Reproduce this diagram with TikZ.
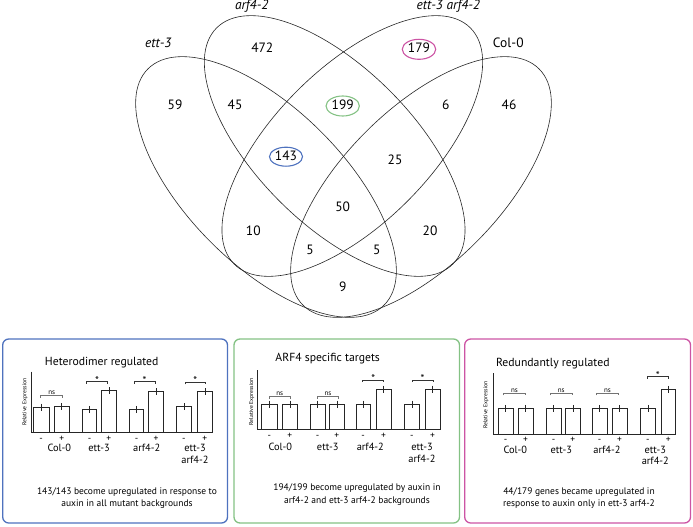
\documentclass[tikz,border=0pt]{standalone}
\usepackage{fontspec}
\setmainfont{PT Sans}
\definecolor{vblue}{RGB}{78,114,190}
\definecolor{vgreen}{RGB}{132,194,132}
\definecolor{vpink}{RGB}{204,84,164}
\tikzset{
  venn/.style={draw=black!85, line width=0.6pt},
  txt/.style={inner sep=0pt, text height=0.7em, text depth=0pt, anchor=center},
  vnum/.style={txt, font=\fontsize{13.5}{15}\selectfont},
  vlab/.style={txt, font=\fontsize{13.5}{15}\selectfont\itshape},
  ring/.style={line width=1.1pt},
  panel/.style={rounded corners=6pt, line width=1.3pt},
  barbox/.style={draw=black!85, fill=white, line width=0.6pt},
  errb/.style={draw=black!85, line width=0.6pt},
  axisline/.style={draw=black!85, line width=0.6pt},
  nsbr/.style={draw=black!55, line width=0.5pt},
  sgbr/.style={draw=black!80, line width=0.5pt},
  smalltxt/.style={txt, font=\fontsize{7}{8}\selectfont},
  startxt/.style={txt, font=\fontsize{11}{12}\selectfont},
  pmtxt/.style={txt, font=\fontsize{9.5}{10}\selectfont},
  grptxt/.style={txt, font=\fontsize{10.4}{12}\selectfont},
  ttltxt/.style={txt, font=\fontsize{11.7}{13}\selectfont},
  captxt/.style={txt, font=\fontsize{9.5}{11}\selectfont},
  ylab/.style={inner sep=0pt, rotate=90, font=\fontsize{5.7}{6}\selectfont},
}
\begin{document}
\begin{tikzpicture}[x=1pt,y=-1pt]
\useasboundingbox (0,0) rectangle (693,527);
% ---------------- Venn diagram ----------------
\draw[venn, rotate around={-45:(266,187)}] (266,187) ellipse [x radius=167pt, y radius=78pt];
\draw[venn, rotate around={-45:(334.7,146)}] (334.7,146) ellipse [x radius=167pt, y radius=78pt];
\draw[venn, rotate around={45:(352.3,146)}] (352.3,146) ellipse [x radius=167pt, y radius=78pt];
\draw[venn, rotate around={45:(421,187)}] (421,187) ellipse [x radius=167pt, y radius=78pt];

\node[vlab] (lett) at (158.3,44.3) {ett-3};
\node[vlab] (larf) at (251.7,6.5) {arf4-2};
\node[vlab] (ldbl) at (448.3,6.5) {ett-3 arf4-2};
\node[vnum] (lcol) at (508.3,44.3) {Col-0};

\node[vnum] (n472) at (262.3,49.3) {472};
\node[vnum] (n179) at (419,49.3) {179};
\node[vnum] (n59) at (175,106) {59};
\node[vnum] (n45) at (235,106) {45};
\node[vnum] (n199) at (342.7,106) {199};
\node[vnum] (n6) at (445.7,106) {6};
\node[vnum] (n46) at (509,106) {46};
\node[vnum] (n143) at (286,156.7) {143};
\node[vnum] (n25) at (395,160.7) {25};
\node[vnum] (n50) at (342.7,208.3) {50};
\node[vnum] (n10) at (253.3,231.7) {10};
\node[vnum] (n20) at (430,231.7) {20};
\node[vnum] (n5a) at (310,250.7) {5};
\node[vnum] (n5b) at (376.7,250.7) {5};
\node[vnum] (n9) at (342.7,288.3) {9};

\draw[ring, vpink] (n179) ellipse [x radius=16.7pt, y radius=10pt];
\draw[ring, vgreen] (n199) ellipse [x radius=16.7pt, y radius=10pt];
\draw[ring, vblue] (n143) ellipse [x radius=16.5pt, y radius=9.5pt];

% ---------------- Panel frames ----------------
\draw[panel, vblue] (2.7,339) rectangle (227.5,523);
\draw[panel, vgreen] (234,339) rectangle (459.5,523);
\draw[panel, vpink] (464.7,339) rectangle (690.5,523);

% ---------------- Panel 1 ----------------
\node[ttltxt] (t1) at (101.7,362.3) {Heterodimer regulated};
\node[ylab] (y1) at (25,402) {Relative Expression};
\foreach \l/\r/\t/\s in {33.3/49/407/-, 54/69.3/406.7/+, 82.3/96.7/409.3/-, 101.7/116/390.7/+, 129.7/143.7/409.3/-, 148.7/163.3/391.7/+, 176.7/191/406.7/-, 197.3/212.3/391.7/+}{
  \draw[barbox] (\l,432.7) rectangle (\r,\t);
  \draw[errb] ({(\l+\r)/2},{\t-3.5}) -- ({(\l+\r)/2},{\t+3.5});
  \node[pmtxt] at ({(\l+\r)/2},438) {\s};
}
\draw[axisline] (31.7,371.7) -- (31.7,432.7) -- (213,432.7);
\draw[nsbr] (40.7,397.7) -- (40.7,395.7) -- (62.7,395.7) -- (62.7,397.7);
\node[smalltxt] at (51.7,391.3) {ns};
\foreach \a/\b/\y in {86.7/107.3/381.7, 134/155/381.7, 185/205.7/382.3}{
  \draw[sgbr] (\a,{\y+2}) -- (\a,\y) -- (\b,\y) -- (\b,{\y+2});
  \node[startxt] at ({(\a+\b)/2},{\y-1}) {*};
}
\node[grptxt] (g1a) at (59.3,448.3) {Col-0};
\node[grptxt] (g1b) at (99,448.3) {ett-3};
\node[grptxt] (g1c) at (146.7,448.3) {arf4-2};
\node[grptxt] (g1d) at (195,448.3) {ett-3};
\node[grptxt] (g1e) at (195,460) {arf4-2};
\node[captxt] (c1a) at (127,490.7) {143/143 become upregulated in response to};
\node[captxt] (c1b) at (127,502.7) {auxin in all mutant backgrounds};

% ---------------- Panel 2 ----------------
\node[ttltxt] (t2) at (327.7,358.3) {ARF4 specific targets};
\node[ylab] (y2) at (251.7,401.7) {Relative Expression};
\foreach \l/\r/\t/\s in {261.7/277/404/-, 282/297.7/404/+, 310.3/325/404/-, 329.3/344.3/404/+, 356/370.3/404/-, 376/391/389/+, 404.3/419.3/404/-, 425/440/389/+}{
  \draw[barbox] (\l,429.3) rectangle (\r,\t);
  \draw[errb] ({(\l+\r)/2},{\t-3.5}) -- ({(\l+\r)/2},{\t+3.5});
  \node[pmtxt] at ({(\l+\r)/2},434.5) {\s};
}
\draw[axisline] (257.7,370) -- (257.7,429.3) -- (441,429.3);
\foreach \a/\b/\y in {269.3/290/396.7, 317.7/338.3/396.7}{
  \draw[nsbr] (\a,{\y+2}) -- (\a,\y) -- (\b,\y) -- (\b,{\y+2});
  \node[smalltxt] at ({(\a+\b)/2},{\y-4.4}) {ns};
}
\foreach \a/\b/\y in {362.7/383.7/380, 412/433.3/380}{
  \draw[sgbr] (\a,{\y+2}) -- (\a,\y) -- (\b,\y) -- (\b,{\y+2});
  \node[startxt] at ({(\a+\b)/2},{\y-1}) {*};
}
\node[grptxt] (g2a) at (280.3,447.3) {Col-0};
\node[grptxt] (g2b) at (327.7,447.3) {ett-3};
\node[grptxt] (g2c) at (370.3,447.3) {arf4-2};
\node[grptxt] (g2d) at (422,447.3) {ett-3};
\node[grptxt] (g2e) at (422,458.8) {arf4-2};
\node[captxt] (c2a) at (357,486.7) {194/199 become upregulated by auxin in};
\node[captxt] (c2b) at (357,500) {arf4-2 and ett-3 arf4-2 backgrounds};

% ---------------- Panel 3 ----------------
\node[ttltxt] (t3) at (552.8,363.3) {Redundantly regulated};
\node[ylab] (y3) at (486,405) {Relative Expression};
\foreach \l/\r/\t/\s in {498/513/408.3/-, 518/533/408.3/+, 546/561.3/408.3/-, 565.3/580.3/408.3/+, 592/607/408.3/-, 612/627/408.3/+, 640.3/655.3/408.3/-, 661.3/675.3/389.3/+}{
  \draw[barbox] (\l,434) rectangle (\r,\t);
  \draw[errb] ({(\l+\r)/2},{\t-3.5}) -- ({(\l+\r)/2},{\t+3.5});
  \node[pmtxt] at ({(\l+\r)/2},438.8) {\s};
}
\draw[axisline] (493.7,373.3) -- (493.7,434) -- (675.3,434);
\foreach \a/\b/\y in {503.7/525.3/393.3, 550.3/572/393.3, 596.3/618.7/393.3}{
  \draw[nsbr] (\a,{\y+2}) -- (\a,\y) -- (\b,\y) -- (\b,{\y+2});
  \node[smalltxt] at ({(\a+\b)/2},{\y-4.4}) {ns};
}
\draw[sgbr] (647,378.7) -- (647,376.7) -- (668.7,376.7) -- (668.7,378.7);
\node[startxt] at (657.9,375.7) {*};
\node[grptxt] (g3a) at (515.3,450) {Col-0};
\node[grptxt] (g3b) at (561.3,450) {ett-3};
\node[grptxt] (g3c) at (607,450) {arf4-2};
\node[grptxt] (g3d) at (655.3,450) {ett-3};
\node[grptxt] (g3e) at (655.3,461.3) {arf4-2};
\node[captxt] (c3a) at (579,491) {44/179 genes became upregulated in};
\node[captxt] (c3b) at (579,503.3) {response to auxin only in ett-3 arf4-2};
\end{tikzpicture}
\end{document}
